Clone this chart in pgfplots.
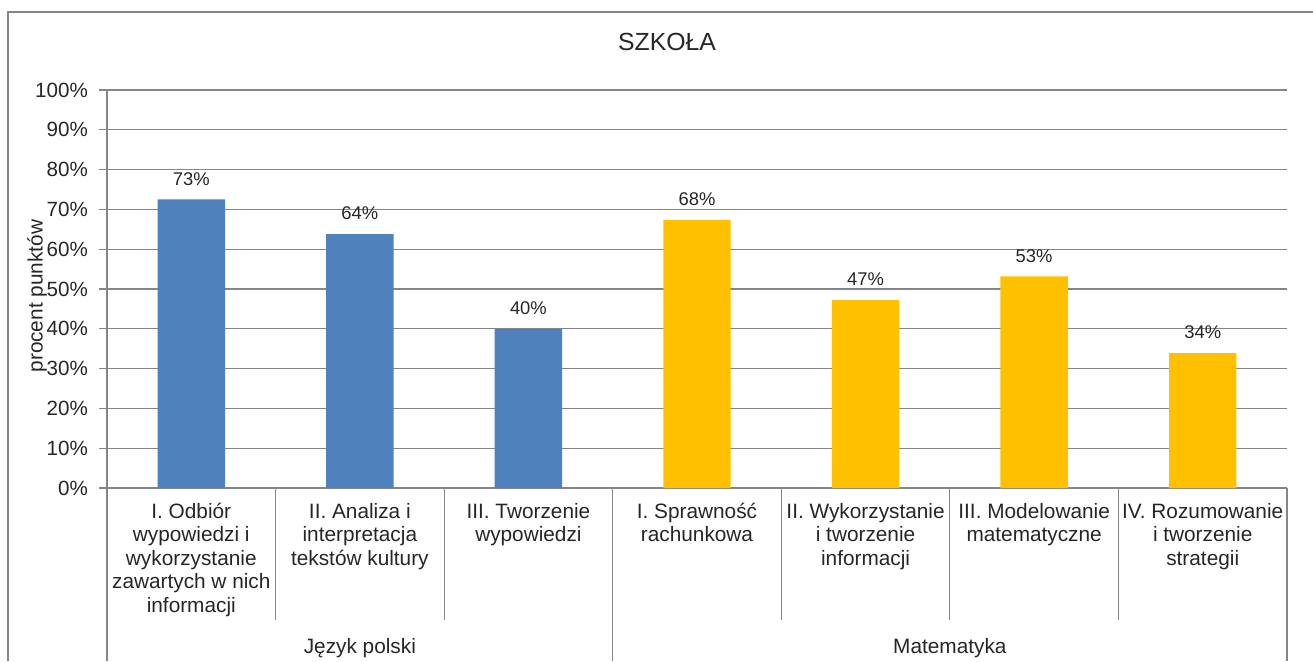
\documentclass[border=0pt]{standalone}
\usepackage{fontspec}
\setmainfont{Liberation Sans}
\usepackage{pgfplots}
\pgfplotsset{compat=1.18}
\definecolor{barblue}{HTML}{4F81BD}
\definecolor{baryellow}{HTML}{FFC000}
\definecolor{gridgray}{HTML}{868686}
\definecolor{txt}{HTML}{262626}
\begin{document}
\begin{tikzpicture}
\useasboundingbox (0,0) rectangle (656.5pt,330.5pt);
\draw[gridgray, line width=0.6pt] (4pt,0) -- (4pt,324.5pt) -- (657pt,324.5pt);
\begin{axis}[
  at={(53.5pt,86.5pt)}, anchor=south west,
  scale only axis, width=590pt, height=199pt,
  xmin=-0.5, xmax=6.5, ymin=0, ymax=100,
  axis x line*=bottom, axis y line*=left,
  axis line style={gridgray, line width=0.6pt},
  ytick={0,10,...,100},
  yticklabel={\pgfmathprintnumber{\tick}\%},
  /pgf/number format/assume math mode=true,
  ymajorgrids, grid style={gridgray, line width=0.6pt},
  tick align=outside, major tick length=4pt,
  y tick style={gridgray, line width=0.6pt},
  x tick style={draw=none},
  yticklabel style={font=\fontsize{10.3}{11}\selectfont, text=txt, xshift=-2pt},
  xtick={0,...,6},
  xticklabels={{I. Odbiór\\wypowiedzi i\\wykorzystanie\\zawartych w nich\\informacji},
    {II. Analiza i\\interpretacja\\tekstów kultury},
    {III. Tworzenie\\wypowiedzi},
    {I. Sprawność\\rachunkowa},
    {II. Wykorzystanie\\i tworzenie\\informacji},
    {III. Modelowanie\\matematyczne},
    {IV. Rozumowanie\\i tworzenie\\strategii}},
  xticklabel style={font=\fontsize{10.4}{11.75}\selectfont, text=txt, align=center, anchor=north, inner sep=0pt, yshift=-3.3pt},
  ylabel={procent punktów},
  ylabel style={at={(axis description cs:-0.0593,0.482)}, anchor=center, font=\fontsize{10.4}{11}\selectfont, text=txt},
  ybar, bar width=0.4, bar shift=0pt,
  nodes near coords, point meta=explicit symbolic,
  nodes near coords style={font=\fontsize{9.2}{10}\selectfont, text=txt, yshift=3.5pt},
  clip=false,
]
\addplot[fill=barblue, draw=none] coordinates {(0,72.5)[73\%] (1,63.8)[64\%] (2,40.0)[40\%]};
\addplot[fill=baryellow, draw=none] coordinates {(3,67.4)[68\%] (4,47.2)[47\%] (5,53.2)[53\%] (6,33.9)[34\%]};
\draw[gridgray, line width=0.6pt] (axis cs:0.5,0) -- ++(0pt,-66pt);
\draw[gridgray, line width=0.6pt] (axis cs:1.5,0) -- ++(0pt,-66pt);
\draw[gridgray, line width=0.6pt] (axis cs:3.5,0) -- ++(0pt,-66pt);
\draw[gridgray, line width=0.6pt] (axis cs:4.5,0) -- ++(0pt,-66pt);
\draw[gridgray, line width=0.6pt] (axis cs:5.5,0) -- ++(0pt,-66pt);
\draw[gridgray, line width=0.6pt] (axis cs:-0.5,0) -- ++(0pt,-86.5pt);
\draw[gridgray, line width=0.6pt] (axis cs:2.5,0) -- ++(0pt,-86.5pt);
\draw[gridgray, line width=0.6pt] (axis cs:6.5,0) -- ++(0pt,-86.5pt);
\node[font=\fontsize{10.4}{11}\selectfont, text=txt] at ([yshift=-80pt]axis cs:1,0) {Język polski};
\node[font=\fontsize{10.4}{11}\selectfont, text=txt] at ([yshift=-80pt]axis cs:4.5,0) {Matematyka};
\node[font=\fontsize{12.4}{14}\selectfont, text=txt, anchor=base] at (axis description cs:0.4746,1.1005) {SZKOŁA};
\end{axis}
\end{tikzpicture}
\end{document}
